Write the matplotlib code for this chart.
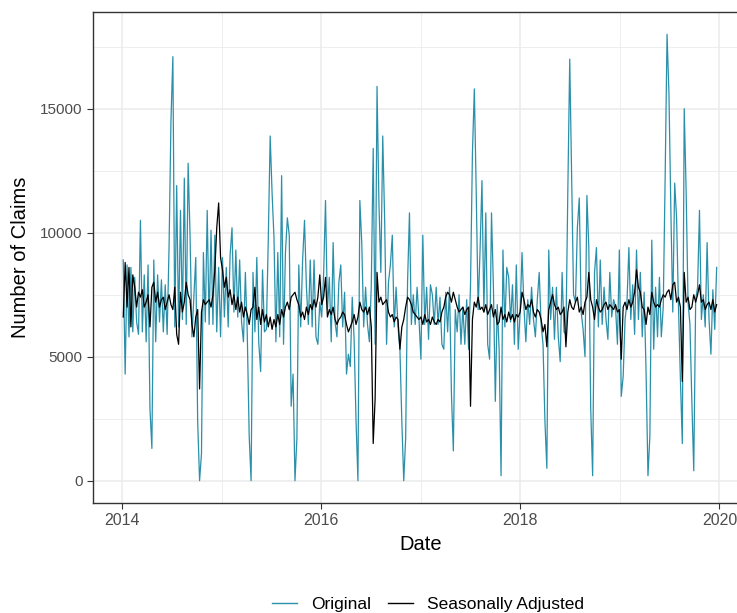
import numpy as np
import pandas as pd
import matplotlib
matplotlib.use("Agg")
import matplotlib.pyplot as plt
import matplotlib.dates as mdates
from matplotlib.lines import Line2D

plt.rcParams["font.family"] = ["Liberation Sans", "DejaVu Sans"]

# weekly claims, one list of 52 weeks per year
orig_2014 = [8900, 4300, 8700, 5800, 8600, 6000, 8200, 6400, 5900, 10500, 6000, 8300, 5600,
             8700, 2900, 1300, 8900, 5600, 8300, 6400, 8100, 6000, 7900, 5900, 9400, 14500,
             17100, 6200, 11900, 6200, 10900, 6500, 12200, 6300, 12800, 9900, 5800, 7400, 9000,
             2400, 0, 1100, 9200, 6400, 10900, 6300, 10100, 6300, 9900, 6000, 8600, 5800]
orig_2015 = [9000, 6600, 8600, 6200, 9100, 10200, 6800, 9300, 6600, 8900, 6400, 5600, 8400,
             5900, 1800, 0, 8400, 6000, 9000, 5600, 4400, 8500, 6000, 6100, 9700, 13900,
             11600, 9800, 5600, 9200, 5800, 12300, 5500, 9200, 10600, 9900, 3000, 4300, 0,
             1700, 8700, 6200, 8900, 10500, 7800, 6300, 8900, 6200, 8900, 5800, 5500, 7200]
orig_2016 = [6600, 8300, 11300, 6900, 8200, 5600, 9600, 6400, 5800, 8000, 8700, 6200, 7600,
             4300, 5100, 4600, 7400, 5700, 2400, 0, 11300, 9600, 6200, 7800, 6300, 5600,
             7900, 13400, 5500, 15900, 11200, 8400, 13900, 10500, 5500, 8000, 8700, 9900, 6200,
             7800, 6200, 5300, 2400, 0, 1700, 8000, 10800, 6300, 7500, 6300, 7800, 6500]
orig_2017 = [4900, 9900, 6300, 7800, 5700, 7900, 7500, 6300, 7800, 6300, 7400, 5500, 5300,
             7600, 6000, 7800, 3500, 1200, 6900, 6000, 7500, 5500, 7000, 5500, 7300, 5300,
             7900, 13200, 15800, 11600, 6900, 9300, 12100, 6800, 10800, 5500, 4900, 10800, 7800,
             3200, 7100, 5300, 200, 9300, 6200, 8600, 8200, 6400, 7900, 5500, 8700, 5300]
orig_2018 = [6800, 9200, 7000, 5600, 7300, 6300, 7800, 6500, 5800, 7300, 8400, 6300, 5500,
             2400, 500, 9300, 6500, 7800, 5700, 7800, 5800, 4800, 8400, 6000, 5900, 11700,
             17000, 12200, 7500, 7200, 10200, 11400, 6800, 6100, 5000, 11500, 9400, 2900, 200,
             8400, 9400, 6200, 8900, 6300, 7800, 6500, 5700, 8400, 6600, 7300, 7000, 5500]
orig_2019 = [9300, 3400, 4200, 6500, 7200, 9400, 6500, 7900, 5900, 9300, 6500, 8400, 5800,
             7600, 4400, 200, 1800, 9700, 5300, 7800, 5800, 8200, 5800, 7000, 12200, 18000,
             15600, 10900, 6800, 12000, 10600, 7000, 4100, 1500, 15000, 11700, 7200, 6300, 3200,
             400, 7300, 7800, 10900, 6500, 7500, 6200, 9600, 6500, 5100, 7700, 6100, 8600]

adj_2014 = [6600, 8800, 7000, 8600, 6200, 8300, 7800, 7000, 7600, 7400, 7700, 7000, 7200,
            7500, 6200, 7800, 8000, 7200, 7600, 7000, 7300, 7400, 6900, 7200, 7500, 7100,
            6900, 7800, 5900, 5500, 7600, 6800, 7200, 8000, 7500, 7300, 6300, 5800, 6600,
            6900, 3700, 6800, 7300, 7100, 7200, 7300, 7000, 7500, 8500, 10200, 11200, 9000]
adj_2015 = [8500, 7800, 8200, 7400, 7700, 7100, 7500, 6900, 7400, 6800, 7200, 6600, 7000,
            6700, 6300, 6900, 7000, 7800, 6500, 7000, 6300, 6900, 6400, 6700, 6200, 6600,
            6100, 6500, 6200, 6700, 6300, 6900, 6600, 7000, 7200, 6900, 7400, 7500, 7600,
            7300, 7100, 6600, 6800, 6500, 7000, 6700, 7100, 6900, 7300, 7000, 7400, 8300]
adj_2016 = [7100, 7400, 8200, 6600, 6900, 6700, 7000, 6500, 6300, 6500, 6600, 6800, 6700,
            6300, 6000, 6200, 6400, 6700, 6300, 6600, 7200, 6900, 6800, 7000, 6700, 7000,
            6200, 1500, 3300, 8400, 7200, 7400, 7100, 7200, 7300, 6800, 6600, 6700, 6400,
            6600, 6500, 5300, 6200, 6500, 7000, 7400, 7300, 7100, 6800, 6700, 6600, 6500]
adj_2017 = [6600, 6300, 6700, 6400, 6500, 6300, 6600, 6400, 6300, 6500, 6400, 6800, 7000,
            7400, 7600, 7500, 7200, 7600, 7300, 7000, 6800, 6900, 7000, 6700, 6900, 7000,
            3000, 6500, 7200, 7000, 7400, 6900, 7000, 6800, 7100, 6700, 6900, 7100, 6600,
            6900, 6300, 6400, 7000, 6500, 6700, 6400, 6800, 6500, 6700, 6400, 6700, 6600]
adj_2018 = [6800, 7600, 7300, 6900, 7100, 7000, 7300, 6800, 6600, 6900, 6800, 6500, 6000,
            6300, 5400, 6900, 7200, 7500, 7100, 6900, 7000, 6700, 6800, 7000, 5400, 6800,
            7300, 7000, 6900, 7200, 7400, 6800, 7000, 6700, 7200, 7400, 8400, 7300, 7000,
            6500, 7300, 7000, 6800, 6900, 7100, 7200, 6900, 7100, 7000, 6900, 7100, 6800]
adj_2019 = [6900, 4900, 7000, 7200, 6900, 7300, 7000, 7200, 7600, 8500, 7800, 7600, 7000,
            6900, 6300, 7000, 6700, 7600, 7200, 7000, 7100, 7000, 7300, 7500, 7400, 7600,
            7700, 7300, 7900, 8000, 7200, 7400, 7000, 4000, 8400, 7200, 7400, 6900, 7000,
            7500, 7200, 7500, 7900, 7200, 7300, 6900, 7100, 7200, 6900, 7300, 6800, 7100]

original = orig_2014 + orig_2015 + orig_2016 + orig_2017 + orig_2018 + orig_2019
adjusted = adj_2014 + adj_2015 + adj_2016 + adj_2017 + adj_2018 + adj_2019
dates = pd.date_range("2014-01-05", periods=len(original), freq="7D")

teal = "#2a90aa"

fig = plt.figure(figsize=(7.37, 6.13), dpi=100)
ax = fig.add_axes([93/737, 110/613, 655/737, 491/613])

ax.plot(dates, original, color=teal, lw=0.9, zorder=3)
ax.plot(dates, adjusted, color="black", lw=0.9, zorder=4)

ax.set_xlim(pd.Timestamp("2013-09-16"), pd.Timestamp("2020-04-15"))
ax.set_ylim(-900, 18900)
ax.xaxis.set_major_locator(mdates.YearLocator(2))
ax.xaxis.set_minor_locator(mdates.YearLocator(1))
ax.xaxis.set_major_formatter(mdates.DateFormatter("%Y"))
ax.set_yticks([0, 5000, 10000, 15000])
ax.set_yticks([2500, 7500, 12500, 17500], minor=True)

ax.grid(which="major", color="#ebebeb", lw=1.1, zorder=0)
ax.grid(which="minor", color="#ebebeb", lw=0.6, zorder=0)
ax.set_axisbelow(True)
for s in ax.spines.values():
    s.set_color("#333333")
    s.set_linewidth(1.0)
ax.tick_params(which="major", length=4, color="#333333", labelcolor="#4d4d4d")
ax.tick_params(axis="x", labelsize=11.5)
ax.tick_params(axis="y", labelsize=11)
ax.tick_params(which="minor", length=0)

ax.set_xlabel("Date", fontsize=14.5, labelpad=5)
ax.set_ylabel("Number of Claims", fontsize=14.5, labelpad=7)

handles = [Line2D([], [], color=teal, lw=1.0), Line2D([], [], color="black", lw=1.0)]
fig.legend(handles, ["Original", "Seasonally Adjusted"], loc="lower center",
           bbox_to_anchor=(428/737, -0.024), ncol=2, frameon=False, fontsize=12.5,
           handlelength=1.45, columnspacing=1.0, handletextpad=0.8)

fig.savefig("out.png", dpi=100)
